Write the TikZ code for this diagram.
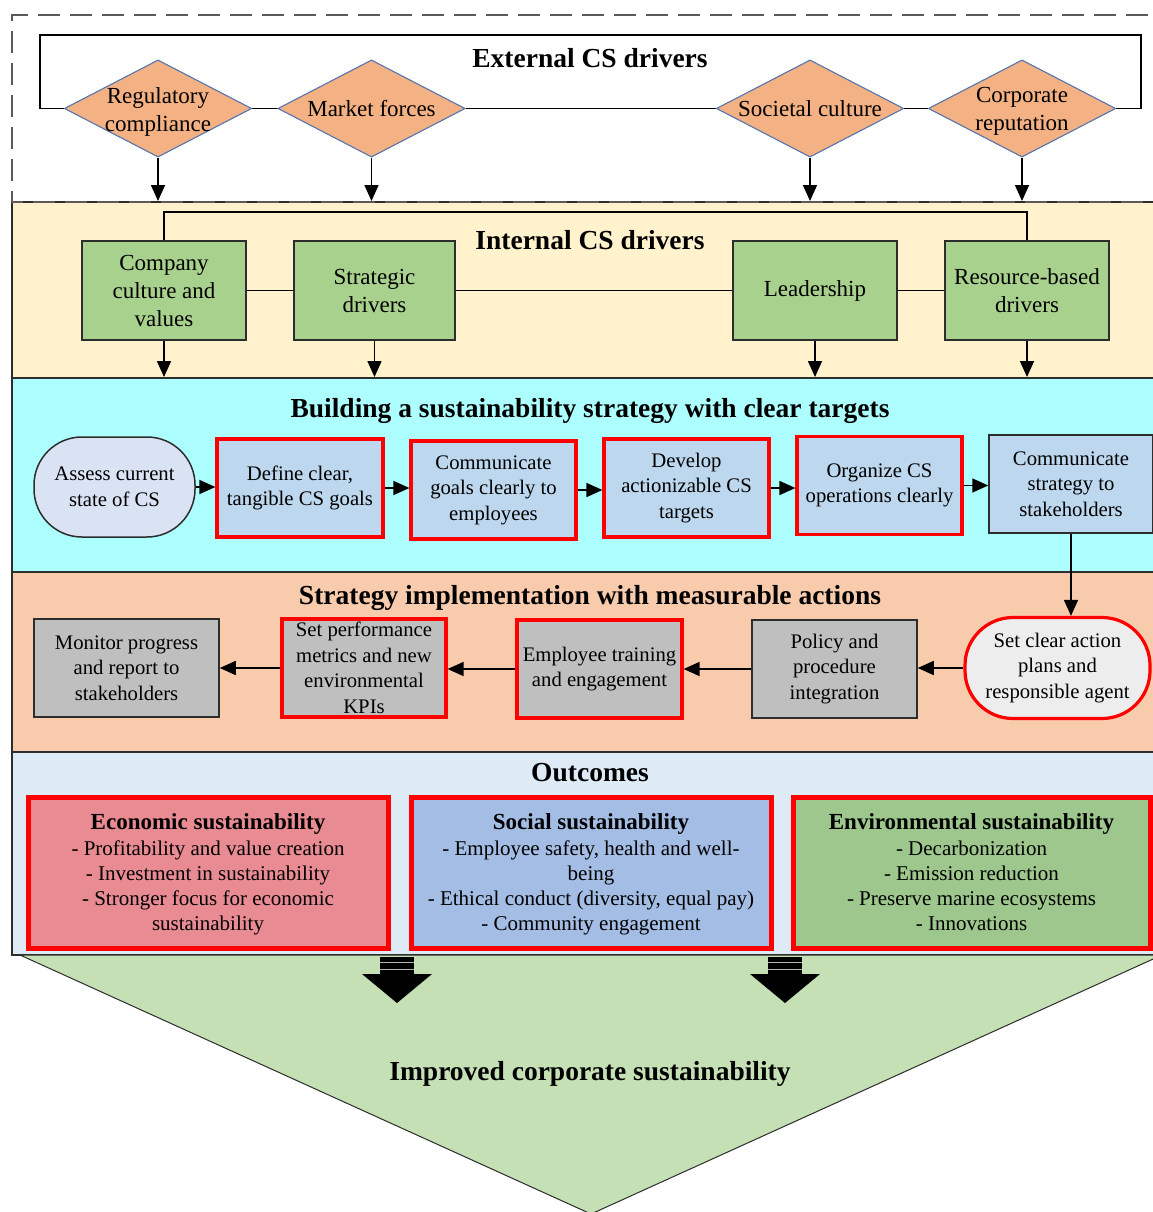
\documentclass[tikz,border=0pt]{standalone}
\usepackage{fontspec}
\setmainfont{Liberation Serif}
\usetikzlibrary{arrows.meta,shapes.geometric}

\definecolor{dfill}{RGB}{244,177,131}
\definecolor{dline}{RGB}{90,120,175}
\definecolor{gfill}{RGB}{169,209,142}
\definecolor{yelpanel}{RGB}{255,242,204}
\definecolor{cyanpanel}{RGB}{173,255,255}
\definecolor{orpanel}{RGB}{248,203,173}
\definecolor{outpanel}{RGB}{222,235,247}
\definecolor{bfill}{RGB}{189,215,238}
\definecolor{afill}{RGB}{218,227,243}
\definecolor{grayfill}{RGB}{191,191,191}
\definecolor{lgray}{RGB}{237,237,237}
\definecolor{ecofill}{RGB}{233,139,146}
\definecolor{socfill}{RGB}{163,189,228}
\definecolor{envfill}{RGB}{157,199,140}
\definecolor{trifill}{RGB}{197,224,180}
\definecolor{edge}{RGB}{45,45,45}
\definecolor{dashgray}{RGB}{90,90,90}

\newcommand{\ttlfont}{\fontsize{27.5}{32}\selectfont\bfseries}
\newcommand{\drvfont}{\fontsize{23}{28}\selectfont}
\newcommand{\stepfont}{\fontsize{20.7}{25.5}\selectfont}
\newcommand{\outfont}{\fontsize{21}{25}\selectfont}
\newcommand{\outttl}[1]{{\fontsize{23}{27}\selectfont\bfseries #1}\\[1pt]}

\tikzset{
  panel/.style={draw=edge, line width=1.6pt},
  ttl/.style={font=\ttlfont, inner sep=0pt},
  link/.style={draw=black, line width=1.6pt},
  arr/.style={draw=black, line width=1.6pt, -{Triangle[width=14pt,length=16pt]}},
  dtext/.style={font=\drvfont, align=center, inner sep=0pt},
  extdrv/.style={diamond, draw=dline, line width=1pt, fill=dfill,
    minimum width=187pt, minimum height=97pt, inner sep=0pt},
  intdrv/.style={draw=edge, line width=1.5pt, fill=gfill, minimum width=164pt,
    minimum height=99pt, align=center, font=\drvfont, inner sep=1pt},
  stepbox/.style={line width=1.5pt, minimum width=165pt, minimum height=98pt,
    align=center, font=\stepfont, inner sep=1pt},
  redbox/.style={stepbox, draw=red, line width=3.2pt},
  darkbox/.style={stepbox, draw=edge},
  pill/.style={stepbox, rounded corners=48pt},
  outbox/.style={draw=red, line width=5pt, minimum width=360pt,
    minimum height=151pt, align=center, font=\outfont, inner sep=1pt},
  tri/.style={fill=trifill, draw=edge, line width=1pt},
  outer/.style={draw=dashgray, line width=1.6pt, dash pattern=on 22pt off 10pt}
}

\begin{document}
\begin{tikzpicture}[x=1pt,y=-1pt]
\useasboundingbox (0,0) rectangle (1153,1212);
\clip (0,0) rectangle (1153,1212);
\fill[white] (0,0) rectangle (1153,1212);

% stacked background panels
\filldraw[panel, fill=yelpanel] (12,202) rectangle (1175,378);
\filldraw[panel, fill=cyanpanel] (12,378) rectangle (1175,572);
\filldraw[panel, fill=orpanel] (12,572) rectangle (1175,752);
\filldraw[panel, fill=outpanel] (12,752) rectangle (1175,955);

% result funnel
\filldraw[tri] (20,955) -- (1162,955) -- (591,1214) -- cycle;

% dashed frame round the external drivers
\draw[outer] (1175,202) -- (12,202) -- (12,15) -- (1175,15);

% section titles
\node[ttl] (tExt) at (590,58) {External CS drivers};
\node[ttl] (tInt) at (590,240) {Internal CS drivers};
\node[ttl] (tBld) at (590,410.5) {Building a sustainability strategy with clear targets};
\node[ttl] (tImp) at (590,597.5) {Strategy implementation with measurable actions};
\node[ttl] (tOut) at (590,773) {Outcomes};

% ---------- external drivers ----------
\coordinate (extTL) at (40,35);
\coordinate (extBR) at (1141,108.5);
\coordinate (intTop) at (0,201);

\node[extdrv] (reg) at (158,108.5) {};
\node[extdrv] (mkt) at (371.5,108.5) {};
\node[extdrv] (soc) at (810,108.5) {};
\node[extdrv] (cor) at (1022,108.5) {};

\draw[link] (reg.west) -| (extTL) -| (extBR) -- (cor.east);
\draw[link] (reg.east) -- (mkt.west);
\draw[link] (mkt.east) -- (soc.west);
\draw[link] (soc.east) -- (cor.west);

\node[extdrv, label={[dtext, yshift=-3pt]center:Regulatory\\compliance}] at (reg) {};
\node[extdrv, label={[dtext]center:Market forces}] at (mkt) {};
\node[extdrv, label={[dtext]center:Societal culture}] at (soc) {};
\node[extdrv, label={[dtext, yshift=-3pt]center:Corporate\\reputation}] at (cor) {};

\foreach \d in {reg,mkt,soc,cor}
  \draw[arr] (\d.south) -- (\d.south |- intTop);

% ---------- internal drivers ----------
\coordinate (intLink) at (0,212);
\coordinate (bldTop) at (0,377);

\node[intdrv] (cc) at (164,290.5) {Company\\culture and\\values};
\node[intdrv, minimum width=161pt] (sd) at (374.5,290.5) {Strategic\\drivers};
\node[intdrv] (ld) at (815,290.5) {Leadership};
\node[intdrv] (rb) at (1027,290.5) {Resource-based\\drivers};

\draw[link] (cc.north) -- (cc.north |- intLink) -| (rb.north);
\draw[link] (cc.east) -- (sd.west);
\draw[link] (sd.east) -- (ld.west);
\draw[link] (ld.east) -- (rb.west);

\foreach \d in {cc,sd,ld,rb}
  \draw[arr] (\d.south) -- (\d.south |- bldTop);

% ---------- building the strategy ----------
\node[pill, draw=edge, fill=afill, minimum width=161pt, minimum height=100pt]
  (as) at (114.5,487) {Assess current\\state of CS};
\node[redbox, fill=bfill, minimum width=166pt] (df) at (300,488) {Define clear,\\tangible CS goals};
\node[redbox, fill=bfill] (cg) at (493.5,490) {Communicate\\goals clearly to\\employees};
\node[redbox, fill=bfill] (dv) at (686.5,488) {Develop\\actionizable CS\\targets};
\node[redbox, fill=bfill] (og) at (879.5,485.5) {Organize CS\\operations clearly};
\node[darkbox, fill=bfill, minimum width=164pt] (cs) at (1071,484) {Communicate\\strategy to\\stakeholders};

\draw[arr] (as.east) -- (as.east -| df.west);
\draw[arr] (df.east) -- (df.east -| cg.west);
\draw[arr] (cg.east) -- (cg.east -| dv.west);
\draw[arr] (dv.east) -- (dv.east -| og.west);
\draw[arr] (og.east) -- (og.east -| cs.west);

% ---------- implementation ----------
\node[pill, draw=red, line width=3.2pt, fill=lgray, minimum width=185pt, minimum height=101pt]
  (sca) at (1057.5,668) {Set clear action\\plans and\\responsible agent};
\node[darkbox, fill=grayfill] (pol) at (834.5,669) {Policy and\\procedure\\integration};
\node[redbox, fill=grayfill] (emp) at (599.5,669) {Employee training\\and engagement};
\node[redbox, fill=grayfill, minimum width=164pt] (spm) at (364,668)
  {Set performance\\metrics and new\\environmental\\KPIs};
\node[darkbox, fill=grayfill, minimum width=185pt] (mon) at (126.5,668)
  {Monitor progress\\and report to\\stakeholders};

\draw[arr] (cs.south) -- (cs.south |- sca.north);
\draw[arr] (sca.west) -- (sca.west -| pol.east);
\draw[arr] (pol.west) -- (pol.west -| emp.east);
\draw[arr] (emp.west) -- (emp.west -| spm.east);
\draw[arr] (spm.west) -- (spm.west -| mon.east);

% ---------- outcomes ----------
\node[outbox, fill=ecofill, text depth=0pt] (eco) at (208,872.5)
  {\outttl{Economic sustainability}
   - Profitability and value creation\\
   - Investment in sustainability\\
   - Stronger focus for economic\\
   sustainability};
\node[outbox, fill=socfill, text depth=0pt] (socs) at (591,872.5)
  {\outttl{Social sustainability}
   - Employee safety, health and well-\\
   being\\
   - Ethical conduct (diversity, equal pay)\\
   - Community engagement};
\node[outbox, fill=envfill, minimum width=357pt, text depth=0pt] (env) at (971.5,872.5)
  {\outttl{Environmental sustainability}
   - Decarbonization\\
   - Emission reduction\\
   - Preserve marine ecosystems\\
   - Innovations};

% block arrows into the funnel
\foreach \x in {397,785} {
  \fill[black] (\x-17,957) rectangle (\x+17,975);
  \draw[gray!60, line width=0.6pt] (\x-17,962) -- (\x+17,962);
  \draw[gray!60, line width=0.6pt] (\x-17,969) -- (\x+17,969);
  \fill[black] (\x-35,974) -- (\x+35,974) -- (\x,1003) -- cycle;
}

\node[ttl] (tRes) at (590,1074) {Improved corporate sustainability};
\end{tikzpicture}
\end{document}
